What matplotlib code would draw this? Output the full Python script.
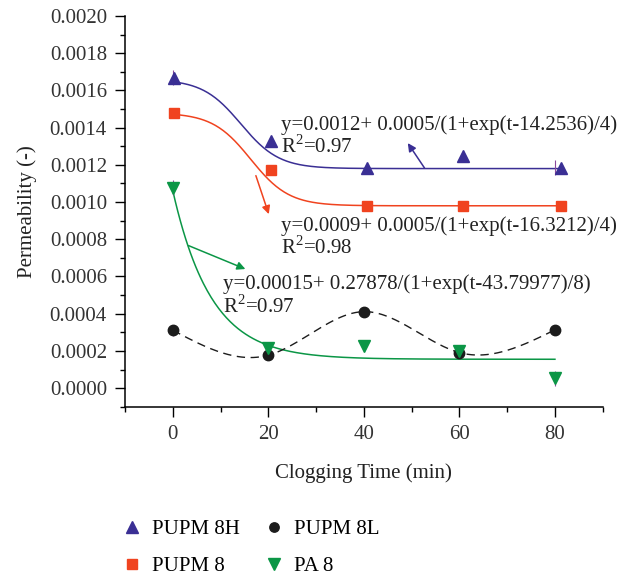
import numpy as np
import matplotlib
matplotlib.use("Agg")
import matplotlib.pyplot as plt
from matplotlib.ticker import MultipleLocator, FormatStrFormatter

plt.rcParams['font.family'] = ['Liberation Serif', 'DejaVu Serif']
plt.rcParams['mathtext.fontset'] = 'custom'
plt.rcParams['mathtext.rm'] = 'Liberation Serif'

# clogging time (min)
t = [0, 20, 40, 60, 80]
t_shift = [0.2, 20.5, 40.7, 60.8, 81.2]   # blue/red markers sit a bit to the right

pupm8h = [0.001668, 0.001326, 0.001185, 0.001248, 0.001185]
pupm8 = [0.001478, 0.001170, 0.000977, 0.000977, 0.000977]
pupm8l = [0.000311, 0.000177, 0.000411, 0.000191, 0.000313]
pa8 = [0.001076, 0.000214, 0.000224, 0.000200, 0.000054]

# Boltzmann fit parameters as drawn: base, amplitude, centre, width
fit_8h = [0.00118, 0.00048, 14.2536, 4]
fit_8 = [0.00098, 0.0005, 16.3212, 4]
fit_pa = [0.000155, 0.27878, -45.8, 8]

eq_8h = "y=0.0012+ 0.0005/(1+exp(t-14.2536)/4)\nR$^2$=0.97"
eq_8 = "y=0.0009+ 0.0005/(1+exp(t-16.3212)/4)\nR$^2$=0.98"
eq_pa = "y=0.00015+ 0.27878/(1+exp(t-43.79977)/8)\nR$^2$=0.97"

c_blue = '#3a2f94'
c_red = '#f0431f'
c_green = '#0b9646'
c_black = '#1c1c1c'
c_err = '#8b4a9c'
fs = 15


def boltz(x, p):
    return p[0] + p[1] / (1 + np.exp((x - p[2]) / p[3]))


def natural_spline(x, y, xs):
    x = np.asarray(x, float); y = np.asarray(y, float)
    n = len(x)
    h = np.diff(x)
    A = np.zeros((n, n)); b = np.zeros(n)
    A[0, 0] = A[-1, -1] = 1
    for i in range(1, n - 1):
        A[i, i - 1] = h[i - 1]
        A[i, i] = 2 * (h[i - 1] + h[i])
        A[i, i + 1] = h[i]
        b[i] = 3 * ((y[i + 1] - y[i]) / h[i] - (y[i] - y[i - 1]) / h[i - 1])
    c = np.linalg.solve(A, b)
    out = np.empty_like(xs)
    for k, xv in enumerate(xs):
        i = min(np.searchsorted(x, xv, side='right') - 1, n - 2)
        i = max(i, 0)
        dx = xv - x[i]
        bi = (y[i + 1] - y[i]) / h[i] - h[i] * (2 * c[i] + c[i + 1]) / 3
        di = (c[i + 1] - c[i]) / (3 * h[i])
        out[k] = y[i] + bi * dx + c[i] * dx ** 2 + di * dx ** 3
    return out


fig = plt.figure(figsize=(6.29, 5.76), dpi=100)
ax = fig.add_axes([0.1987, 0.2939, 0.7595, 0.6783])

xs = np.linspace(0, 81, 300)
ax.plot(xs, boltz(xs, fit_8h), color=c_blue, lw=1.1)
ax.plot(xs, boltz(xs, fit_8), color=c_red, lw=1.1)
xg = np.linspace(0, 80, 300)
ax.plot(xg, boltz(xg, fit_pa), color=c_green, lw=1.1)
ax.plot(xg, natural_spline(t, pupm8l, xg), color=c_black, lw=1.0, ls=(0, (6, 4)))

# small error bars
ax.errorbar([t[0], t[4]], [pupm8h[0], pupm8h[4]], yerr=0.00004, fmt='none', ecolor=c_err, elinewidth=0.8, capsize=0)
ax.errorbar([t[0], t[4]], [pa8[0], pa8[4]], yerr=0.00004, fmt='none', ecolor=c_err, elinewidth=0.8, capsize=0)
ax.errorbar([t[0]], [pupm8l[0]], yerr=0.00003, fmt='none', ecolor=c_err, elinewidth=0.8, capsize=0)

ax.plot(t_shift, pupm8h, ls='none', marker='^', ms=9, color=c_blue, label='PUPM 8H', zorder=5)
ax.plot(t_shift, pupm8, ls='none', marker='s', ms=7.5, color=c_red, label='PUPM 8', zorder=5)
ax.plot(t, pupm8l, ls='none', marker='o', ms=7.5, color=c_black, label='PUPM 8L', zorder=5)
ax.plot(t, pa8, ls='none', marker='v', ms=9, color=c_green, label='PA 8', zorder=5)

# arrows from curves to equations
ax.annotate('', xy=(49.2, 0.001317), xytext=(52.7, 0.001183),
            arrowprops=dict(arrowstyle='-|>', color=c_blue, lw=1.1, mutation_scale=12, shrinkA=0, shrinkB=0))
ax.annotate('', xy=(20.1, 0.000935), xytext=(17.4, 0.001142),
            arrowprops=dict(arrowstyle='-|>', color=c_red, lw=1.1, mutation_scale=12, shrinkA=0, shrinkB=0))
ax.annotate('', xy=(15.2, 0.000640), xytext=(3.3, 0.000766),
            arrowprops=dict(arrowstyle='-|>', color=c_green, lw=1.1, mutation_scale=12, shrinkA=0, shrinkB=0))

txt = dict(fontsize=fs, color='#222222', va='top', ha='left', linespacing=1.05)
ax.text(22.7, 0.001468, eq_8h, **txt)
ax.text(22.7, 0.000925, eq_8, **txt)
ax.text(10.6, 0.000612, eq_pa, **txt)

ax.set_xlim(-10, 90)
ax.set_ylim(-0.0001, 0.0020)
ax.set_xticks(t)
ax.set_yticks(np.arange(0, 0.00201, 0.0002))
ax.yaxis.set_major_formatter(FormatStrFormatter('%.4f'))
ax.xaxis.set_minor_locator(MultipleLocator(10))
ax.yaxis.set_minor_locator(MultipleLocator(0.0001))
ax.tick_params(which='major', direction='out', length=7, width=1, labelsize=fs, labelcolor='#333333', pad=6)
ax.tick_params(which='minor', direction='out', length=3.5, width=1)
for s in ['top', 'right']:
    ax.spines[s].set_visible(False)
for s in ['left', 'bottom']:
    ax.spines[s].set_linewidth(1.1)

ax.set_xlabel('Clogging Time (min)', fontsize=fs, color='#222222', labelpad=14)
ax.set_ylabel('Permeability (-)', fontsize=fs, color='#222222', labelpad=9)

h, l = ax.get_legend_handles_labels()
fig.legend(h, l, ncol=2, frameon=False, loc='center left',
           bbox_to_anchor=(0.193, 0.049), bbox_transform=fig.transFigure,
           fontsize=fs, handlelength=1.0, handletextpad=0.46, columnspacing=1.15,
           labelspacing=0.85, markerscale=0.9, borderpad=0, borderaxespad=0)

fig.savefig('out.png', dpi=100)
